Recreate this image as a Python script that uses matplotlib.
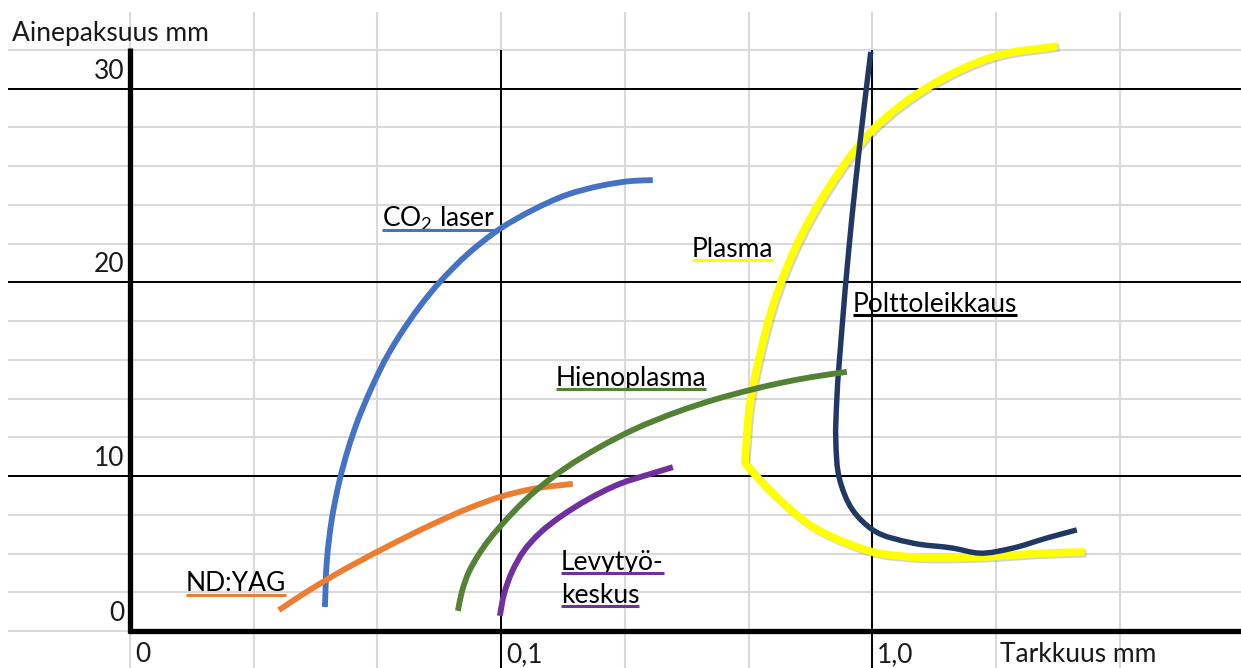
import matplotlib.pyplot as plt
import matplotlib.patheffects as pe
from matplotlib.path import Path
from matplotlib.patches import PathPatch
import numpy as np

plt.rcParams['font.family'] = ['Lato', 'DejaVu Sans']
plt.rcParams['mathtext.fontset'] = 'custom'
plt.rcParams['mathtext.rm'] = 'Lato'

# sketch drawn on a spreadsheet grid: x = column index, y = row index
co2_x = [1.576, 1.592, 1.632, 1.697, 1.834, 1.956, 2.085, 2.182, 2.505, 2.723, 2.990, 3.257, 3.531, 3.798, 4.065, 4.226]
co2_y = [0.62, 1.83, 2.89, 3.92, 5.37, 6.30, 7.13, 7.64, 9.01, 9.71, 10.38, 10.87, 11.26, 11.49, 11.62, 11.64]

yag_x = [1.204, 1.374, 1.640, 2.044, 2.448, 2.747, 2.990, 3.257, 3.580]
yag_y = [0.54, 0.90, 1.42, 2.12, 2.76, 3.18, 3.46, 3.67, 3.80]

levy_x = [2.990, 3.022, 3.087, 3.184, 3.313, 3.475, 3.693, 3.960, 4.202, 4.388]
levy_y = [0.39, 0.93, 1.52, 2.07, 2.53, 2.94, 3.38, 3.80, 4.05, 4.23]

hieno_x = [2.651, 2.683, 2.739, 2.812, 2.901, 2.990, 3.257, 3.531, 3.798, 4.065, 4.444, 4.711, 5.010, 5.253, 5.519, 5.794]
hieno_y = [0.52, 1.01, 1.52, 1.94, 2.35, 2.69, 3.56, 4.23, 4.75, 5.19, 5.68, 5.96, 6.22, 6.40, 6.56, 6.69]

plasma_x = [7.499, 7.006, 6.465, 6.004, 5.657, 5.390, 5.212, 5.091, 5.010, 4.970,
            5.067, 5.253, 5.519, 5.794, 6.004, 6.327, 6.869, 7.410, 7.717]
plasma_y = [15.10, 14.85, 14.07, 12.94, 11.49, 9.97, 8.55, 7.13, 5.84, 4.34,
            3.98, 3.38, 2.69, 2.27, 2.04, 1.91, 1.91, 2.01, 2.04]
plasma_corner = 9

poltto_x = [5.988, 5.931, 5.867, 5.810, 5.754, 5.713, 5.705, 5.737, 5.842, 6.004, 6.327, 6.651, 6.869, 7.135, 7.410, 7.653]
poltto_y = [14.95, 13.45, 11.64, 9.84, 7.77, 5.96, 4.93, 3.90, 3.12, 2.61, 2.27, 2.14, 2.01, 2.14, 2.40, 2.61]

y_tick_rows = [14, 9, 4, 0]
y_tick_labels = ['30', '20', '10', '0']
x_tick_cols = [0, 3, 6]
x_tick_labels = ['0', '0,1', '1,0']


def smooth_path(ax, xs, ys, corners=()):
    # bezier through the read points, tangents from chord lengths in screen space
    P = ax.transData.transform(np.column_stack([xs, ys]))
    n = len(P)
    d = np.hypot(*np.diff(P, axis=0).T)
    u = np.diff(P, axis=0) / d[:, None]
    m_in = np.zeros_like(P)
    m_out = np.zeros_like(P)
    for i in range(n):
        if i == 0:
            m_in[i] = m_out[i] = u[0]
        elif i == n - 1:
            m_in[i] = m_out[i] = u[-1]
        elif i in corners:
            m_in[i], m_out[i] = u[i - 1], u[i]
        else:
            m = (u[i - 1] * d[i] + u[i] * d[i - 1]) / (d[i - 1] + d[i])
            m_in[i] = m_out[i] = m
    verts = [P[0]]
    codes = [Path.MOVETO]
    for i in range(n - 1):
        verts += [P[i] + m_out[i] * d[i] / 3, P[i + 1] - m_in[i + 1] * d[i] / 3, P[i + 1]]
        codes += [Path.CURVE4] * 3
    verts = ax.transData.inverted().transform(np.array(verts))
    return Path(verts, codes)


def curve(ax, xs, ys, color, lw, z, corners=(), effects=None):
    patch = PathPatch(smooth_path(ax, xs, ys, corners), fill=False, edgecolor=color, lw=lw,
                      capstyle='butt', joinstyle='round', zorder=z)
    if effects:
        patch.set_path_effects(effects)
    ax.add_patch(patch)


fig = plt.figure(figsize=(12.41, 6.68), dpi=100)
ax = fig.add_axes([0, 0, 1, 1])
ax.set_xlim(-1.05, 8.98)
ax.set_ylim(-0.955, 16.29)
ax.axis('off')

# grid
grey = '#d9d9d9'
ax.vlines(range(0, 9), -0.96, 15.98, color=grey, lw=1.5, zorder=1)
ax.hlines(range(0, 16), -0.986, 9.0, color=grey, lw=1.5, zorder=1)
ax.hlines([4, 9, 14], -0.986, 9.0, color='black', lw=1.4, zorder=2)
ax.vlines([3, 6], -0.96, 15.0, color='black', lw=1.4, zorder=2)
ax.plot([0, 0], [-0.06, 15.05], color='black', lw=3.8, solid_capstyle='butt', zorder=3)
ax.plot([-0.015, 9.0], [0, 0], color='black', lw=3.8, solid_capstyle='butt', zorder=3)

# curves
curve(ax, co2_x, co2_y, '#4472C4', 4.2, 4)
curve(ax, yag_x, yag_y, '#ED7D31', 4.2, 5)
curve(ax, levy_x, levy_y, '#7030A0', 4.2, 5)
curve(ax, plasma_x, plasma_y, '#FFFF00', 5.6, 6, corners=(plasma_corner,),
      effects=[pe.SimpleLineShadow(offset=(1.2, -1.2), shadow_color='#808080', alpha=0.35), pe.Normal()])
curve(ax, poltto_x, poltto_y, '#1F3864', 3.9, 7)
curve(ax, hieno_x, hieno_y, '#548235', 4.2, 8)

fs = 19
tc = '#1a1a1a'
ax.text(-0.954, 15.23, 'Ainepaksuus mm', fontsize=fs, color=tc, va='baseline', ha='left')
for r, lab in zip(y_tick_rows, y_tick_labels):
    ax.text(-0.045, r + 0.26, lab, fontsize=fs, color=tc, va='baseline', ha='right')
for c, lab in zip(x_tick_cols, x_tick_labels):
    ax.text(c + 0.04, -0.81, lab, fontsize=fs, color=tc, va='baseline', ha='left')
ax.text(7.03, -0.81, 'Tarkkuus mm', fontsize=fs, color=tc, va='baseline', ha='left')

# curve names with coloured underline
names = [
    (2.036, 10.43, r'CO$_{\mathrm{2}}$ laser', '#4472C4'),
    (4.541, 9.66, 'Plasma', '#FFFF00'),
    (5.842, 8.24, 'Polttoleikkaus', 'black'),
    (3.442, 6.33, 'Hienoplasma', '#548235'),
    (0.453, 1.03, 'ND:YAG', '#ED7D31'),
    (3.483, 1.575, 'Levytyö-', '#7030A0'),
    (3.483, 0.723, 'keskus', '#7030A0'),
]
texts = []
for c, r, s, col in names:
    t = ax.text(c, r, s, fontsize=fs, color='black', va='baseline', ha='left', zorder=9)
    texts.append((t, r, col))

fig.canvas.draw()
inv = ax.transData.inverted()
for t, r, col in texts:
    bb = t.get_window_extent()
    x0 = inv.transform((bb.x0, 0))[0]
    x1 = inv.transform((bb.x1, 0))[0]
    ax.plot([x0, x1], [r - 0.09, r - 0.09], color=col, lw=2.2, solid_capstyle='butt', zorder=9)

fig.savefig('out.png', dpi=100)
